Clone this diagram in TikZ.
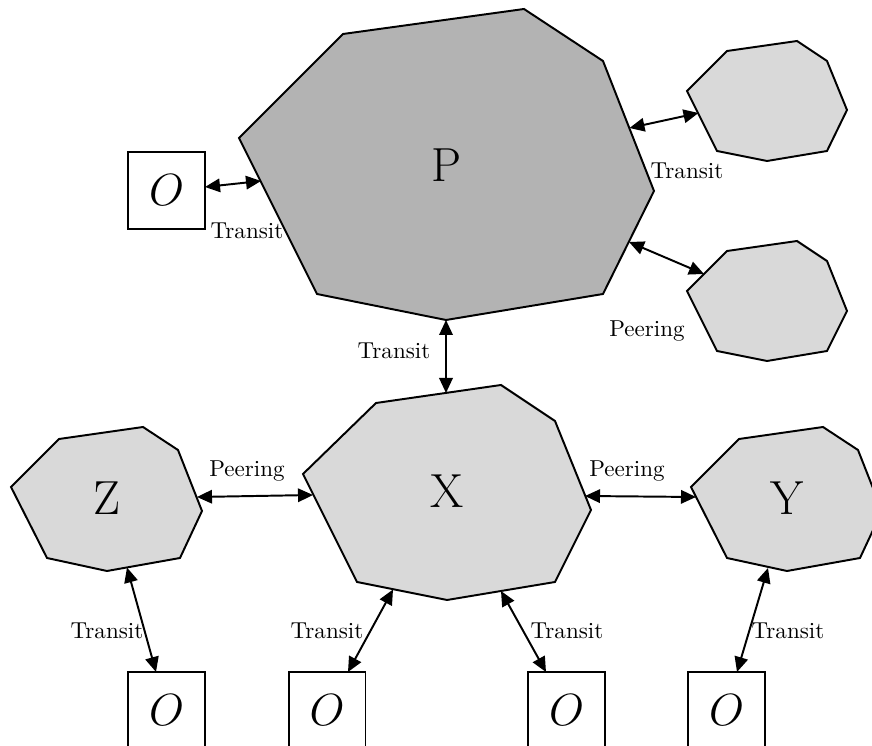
\documentclass[tikz,border=0pt]{standalone}
\usetikzlibrary{arrows.meta}
\definecolor{pfill}{HTML}{B3B3B3}
\definecolor{afill}{HTML}{D9D9D9}
\begin{document}
\begin{tikzpicture}[x=0.46pt,y=-0.46pt,
  poly/.style={draw=black,line width=0.9pt,line join=miter},
  big/.style={font=\fontsize{22}{26}\selectfont,inner sep=0pt,anchor=base},
  lbl/.style={font=\fontsize{10.6}{12}\selectfont,inner sep=0pt,anchor=base},
  obox/.style={draw,line width=0.9pt,minimum width=35.4pt,minimum height=35.4pt,inner sep=0pt,font=\fontsize{22}{26}\selectfont},
  link/.style={line width=0.9pt,{Triangle[length=6.9pt,width=6.2pt]}-{Triangle[length=6.9pt,width=6.2pt]}}]
\clip (0,0) rectangle (872,746);
% polygons
\draw[poly,fill=pfill] (343,34) -- (524,9) -- (603,61) -- (654,191) -- (603,294) -- (446,320) -- (317,294) -- (239,138) -- cycle;
\draw[poly,fill=afill] (687,91) -- (727,51) -- (797,41) -- (827,61) -- (847,110) -- (827,151) -- (767,161) -- (717,151) -- cycle;
\draw[poly,fill=afill] (687,291) -- (727,251) -- (797,241) -- (827,261) -- (847,311) -- (827,351) -- (767,361) -- (717,351) -- cycle;
\draw[poly,fill=afill] (376,403) -- (501,385) -- (555,421) -- (591,510) -- (555,582) -- (447,600) -- (357,582) -- (303,474) -- cycle;
\draw[poly,fill=afill] (59,439) -- (143,427) -- (178,450) -- (202,511) -- (180,558) -- (107,571) -- (47,558) -- (11,487) -- cycle;
\draw[poly,fill=afill] (739,439) -- (823,427) -- (858,450) -- (882,511) -- (860,558) -- (787,571) -- (727,558) -- (691,487) -- cycle;
% big labels
\node[big] (P) at (447,182) {P};
\node[big] (X) at (447,508) {X};
\node[big] (Z) at (107,515) {Z};
\node[big] (Y) at (787,515) {Y};
% boxes
\node[obox] (Ol) at (166.5,190.5) {$O$};
\node[obox] (O1) at (166.5,710.5) {$O$};
\node[obox] (O2) at (327,710.5) {$O$};
\node[obox] (O3) at (566.5,710.5) {$O$};
\node[obox] (O4) at (726.5,710.5) {$O$};
% connector ends
\coordinate (Ol-e) at (205,187);
\coordinate (P-w) at (261,181);
\coordinate (P-ne) at (629.5,128);
\coordinate (T1-w) at (698.5,113);
\coordinate (P-se) at (629,242);
\coordinate (T2-w) at (704,274);
\coordinate (P-s) at (446,320);
\coordinate (X-n) at (446,393);
\coordinate (Z-e) at (197,497);
\coordinate (X-w) at (313,495);
\coordinate (X-e) at (585,496);
\coordinate (Y-w) at (696,497);
\coordinate (Z-s) at (127,567.5);
\coordinate (O1-n) at (156,672);
\coordinate (X-sw) at (393,589.5);
\coordinate (O2-n) at (348,672);
\coordinate (X-se) at (501,591);
\coordinate (O3-n) at (546,672);
\coordinate (Y-s) at (768,568);
\coordinate (O4-n) at (737,672);
% connectors
\draw[link] (Ol-e) -- (P-w);
\draw[link] (P-ne) -- (T1-w);
\draw[link] (P-se) -- (T2-w);
\draw[link] (P-s) -- (X-n);
\draw[link] (Z-e) -- (X-w);
\draw[link] (X-e) -- (Y-w);
\draw[link] (Z-s) -- (O1-n);
\draw[link] (X-sw) -- (O2-n);
\draw[link] (X-se) -- (O3-n);
\draw[link] (Y-s) -- (O4-n);
% connector labels
\node[lbl] (l1) at (247,239) {Transit};
\node[lbl] (l2) at (687,179) {Transit};
\node[lbl] (l3) at (647,337) {Peering};
\node[lbl] (l4) at (394,359) {Transit};
\node[lbl] (l5) at (247,477) {Peering};
\node[lbl] (l6) at (627,477) {Peering};
\node[lbl] (l7) at (107,639) {Transit};
\node[lbl] (l8) at (327,639) {Transit};
\node[lbl] (l9) at (567,639) {Transit};
\node[lbl] (l10) at (788,639) {Transit};
\end{tikzpicture}
\end{document}
